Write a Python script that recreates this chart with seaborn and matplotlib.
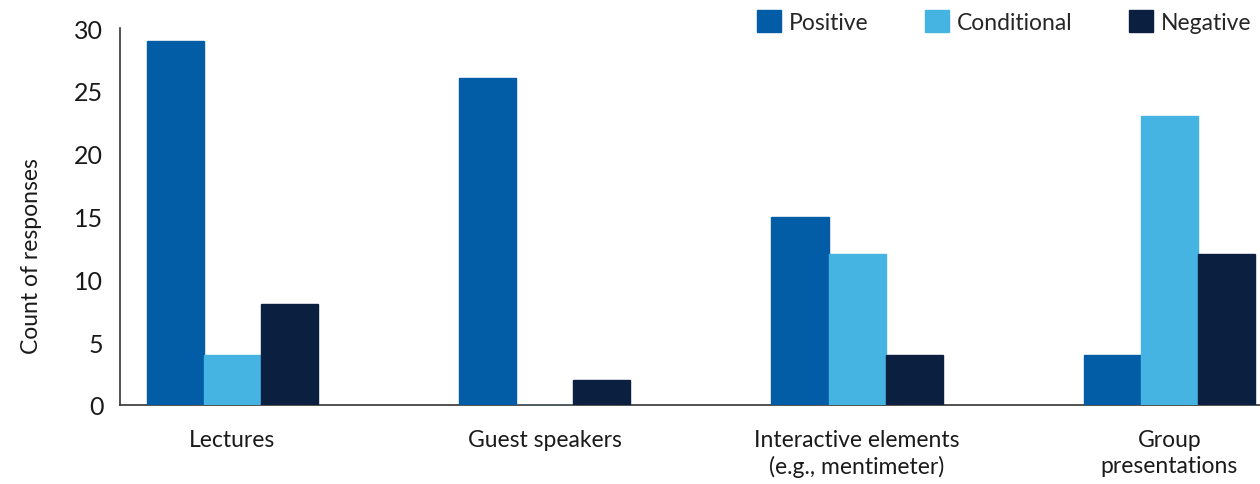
import matplotlib
matplotlib.use("Agg")
import pandas as pd
import matplotlib.pyplot as plt
import seaborn as sns

# Data
categories = ["Lectures", "Guest speakers", "Interactive elements\n(e.g., mentimeter)", "Group\npresentations"]
responses = ["Positive", "Conditional", "Negative"]
positive = [29, 26, 15, 4]
conditional = [4, 0, 12, 23]
negative = [8, 2, 4, 12]
colors = ["#025DA6", "#45B4E3", "#0B1F40"]

# Long format for seaborn
df = pd.DataFrame({
    "category": categories * 3,
    "response": [r for r in responses for _ in categories],
    "count": positive + conditional + negative,
})

sns.set_style("white")
plt.rcParams["font.family"] = ["Lato", "DejaVu Sans"]

fig = plt.figure(figsize=(12.6, 4.85), dpi=100)
ax = fig.add_axes([0.0952, 0.163, 0.9048, 0.777])

sns.barplot(data=df, x="category", y="count", hue="response", order=categories,
            hue_order=responses, palette=colors, width=0.548, gap=0,
            saturation=1, ax=ax, legend=True)

# zero-height bars still show as a thin line in the reference
for p in ax.patches:
    p.set_edgecolor(p.get_facecolor())
    p.set_linewidth(1.0)
    p.set_zorder(3)

ax.set_xlim(-0.36, 3.29)
ax.set_ylim(0, 30)
ax.set_yticks([0, 5, 10, 15, 20, 25, 30])
ax.tick_params(axis="y", labelsize=18, length=0, pad=12, colors="#1a1a1a")
ax.tick_params(axis="x", labelsize=16.5, length=0, pad=17, colors="#1a1a1a")
for lbl in ax.get_xticklabels():
    lbl.set_linespacing(1.3)
ax.set_xlabel("")
ax.set_ylabel("Count of responses", fontsize=16.5, color="#1a1a1a")
ax.yaxis.set_label_coords(-0.068, 0.398)

for side in ["top", "right"]:
    ax.spines[side].set_visible(False)
for side in ["left", "bottom"]:
    ax.spines[side].set_color("#333333")
    ax.spines[side].set_linewidth(1.2)
    ax.spines[side].set_zorder(2)

handles, labels = ax.get_legend_handles_labels()
ax.get_legend().remove()
fig.legend(handles, labels, ncol=3, loc="center right", bbox_to_anchor=(0.993, 0.954),
           frameon=False, fontsize=16.5, handlelength=1.05, handleheight=1.09,
           handletextpad=0.35, columnspacing=2.45, borderaxespad=0, borderpad=0)

plt.savefig("out.png", dpi=100)
plt.close()
